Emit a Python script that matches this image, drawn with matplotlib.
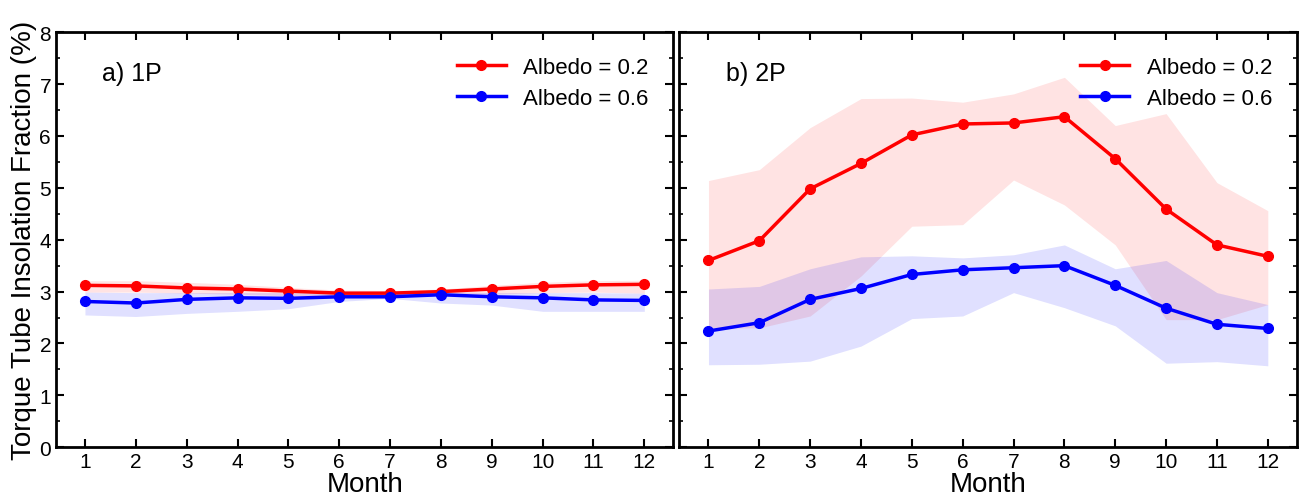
import numpy as np
import matplotlib
matplotlib.use('Agg')
import matplotlib.pyplot as plt
from matplotlib.ticker import MultipleLocator

plt.rcParams['font.family'] = ['Liberation Sans', 'DejaVu Sans']

months = list(range(1, 13))

# panel a) 1P
a_red = [3.12, 3.11, 3.07, 3.05, 3.01, 2.97, 2.97, 3.00, 3.05, 3.10, 3.13, 3.14]
a_red_hi = [3.21, 3.21, 3.18, 3.14, 3.08, 3.03, 3.02, 3.05, 3.12, 3.18, 3.21, 3.22]
a_red_lo = [2.99, 2.99, 2.97, 2.95, 2.92, 2.91, 2.91, 2.92, 2.95, 2.98, 2.99, 2.97]
a_blue = [2.81, 2.78, 2.85, 2.88, 2.87, 2.90, 2.90, 2.94, 2.90, 2.88, 2.84, 2.83]
a_blue_hi = [2.99, 2.98, 2.98, 2.98, 2.98, 2.97, 2.97, 3.00, 2.98, 2.98, 2.98, 2.97]
a_blue_lo = [2.55, 2.52, 2.58, 2.62, 2.67, 2.81, 2.87, 2.78, 2.74, 2.62, 2.62, 2.62]

# panel b) 2P
b_red = [3.60, 3.98, 4.98, 5.47, 6.02, 6.23, 6.25, 6.37, 5.56, 4.59, 3.90, 3.68]
b_red_hi = [5.14, 5.35, 6.16, 6.72, 6.73, 6.65, 6.81, 7.13, 6.20, 6.43, 5.10, 4.56]
b_red_lo = [2.30, 2.30, 2.53, 3.30, 4.26, 4.29, 5.15, 4.67, 3.90, 2.46, 2.46, 2.75]
b_blue = [2.24, 2.40, 2.85, 3.06, 3.33, 3.42, 3.46, 3.50, 3.12, 2.68, 2.37, 2.29]
b_blue_hi = [3.05, 3.10, 3.44, 3.67, 3.69, 3.65, 3.71, 3.90, 3.44, 3.60, 2.98, 2.75]
b_blue_lo = [1.59, 1.60, 1.66, 1.95, 2.48, 2.53, 2.98, 2.69, 2.34, 1.62, 1.65, 1.57]

fig, axes = plt.subplots(1, 2, figsize=(13.02, 5.02), dpi=100)
fig.subplots_adjust(left=0.043, right=0.996, top=0.934, bottom=0.107, wspace=0.01)

panels = [
    (axes[0], 'a) 1P', a_red, a_red_hi, a_red_lo, a_blue, a_blue_hi, a_blue_lo),
    (axes[1], 'b) 2P', b_red, b_red_hi, b_red_lo, b_blue, b_blue_hi, b_blue_lo),
]

for ax, tag, red, red_hi, red_lo, blue, blue_hi, blue_lo in panels:
    ax.fill_between(months, red_lo, red_hi, color='red', alpha=0.11, lw=0)
    ax.fill_between(months, blue_lo, blue_hi, color='blue', alpha=0.12, lw=0)
    ax.plot(months, red, '-o', color='red', lw=2.5, ms=7, label='Albedo = 0.2')
    ax.plot(months, blue, '-o', color='blue', lw=2.5, ms=7, label='Albedo = 0.6')
    ax.set_xlim(0.43, 12.57)
    ax.set_ylim(0, 8)
    ax.set_xticks(months)
    ax.yaxis.set_major_locator(MultipleLocator(1))
    ax.yaxis.set_minor_locator(MultipleLocator(0.5))
    ax.tick_params(which='both', direction='in', top=True, right=True, labelsize=15)
    ax.tick_params(which='major', length=6, width=1.5)
    ax.tick_params(which='minor', length=3, width=1.2)
    for s in ax.spines.values():
        s.set_linewidth(2)
    ax.set_xlabel('Month', fontsize=20, labelpad=0)
    ax.text(0.075, 0.885, tag, transform=ax.transAxes, fontsize=18)
    ax.legend(loc='upper right', frameon=False, fontsize=16, handlelength=2.2,
              borderaxespad=0.7, labelspacing=0.45)

axes[0].set_ylabel('Torque Tube Insolation Fraction (%)', fontsize=20, labelpad=2)
axes[1].tick_params(labelleft=False)

plt.savefig('out.png')
